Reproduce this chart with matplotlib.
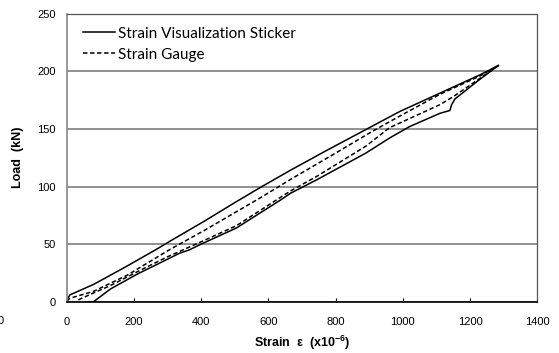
import matplotlib.pyplot as plt

# data
sticker_up_strain = [0, 10, 80, 180, 270, 310, 410, 500, 575, 665, 765, 900, 990, 1110, 1230, 1284]
sticker_up_load = [1.5, 6, 15, 31, 46, 53, 70, 86, 99, 114, 130, 151, 165, 181, 197, 205]

sticker_down_strain = [1284, 1220, 1155, 1145, 1140, 1110, 1020, 960, 890, 745, 665, 640, 505,
                       400, 365, 335, 280, 210, 130, 80, 64]
sticker_down_load = [205, 191, 176, 171, 166, 163.5, 152, 142, 129, 106, 94, 89, 64,
                     50, 45, 42, 34, 24, 11, 0, 0]

gauge_up_strain = [0, 10, 80, 180, 305, 410, 575, 665, 800, 910, 990, 1110, 1230, 1284]
gauge_up_load = [0.5, 3, 9, 23, 45, 62, 90, 106, 129, 148, 161, 180, 196, 205]

gauge_down_strain = [1284, 1220, 1150, 1110, 960, 890, 745, 665, 505, 400, 300, 210, 130, 60, 30]
gauge_down_load = [205, 192, 178, 171, 151, 135, 109, 96, 66, 52, 39, 26, 14, 5, 1]

x_ticks = [0, 200, 400, 600, 800, 1000, 1200, 1400]
y_ticks = [0, 50, 100, 150, 200, 250]

plt.rcParams["font.family"] = "Liberation Sans"
plt.rcParams["mathtext.fontset"] = "custom"
plt.rcParams["mathtext.rm"] = "Liberation Sans"
plt.rcParams["mathtext.bf"] = "Liberation Sans:bold"

fig = plt.figure(figsize=(5.59, 3.53), dpi=100)
ax = fig.add_axes([0.1193, 0.1453, 0.8419, 0.8159])

dash = (0, (2.9, 1.7))
ax.plot(sticker_up_strain, sticker_up_load, color="black", lw=1.1, label="Strain Visualization Sticker")
ax.plot(gauge_up_strain, gauge_up_load, color="black", lw=1.1, linestyle=dash, label="Strain Gauge")
ax.plot(sticker_down_strain, sticker_down_load, color="black", lw=1.1)
ax.plot(gauge_down_strain, gauge_down_load, color="black", lw=1.1, linestyle=dash)

ax.set_xlim(0, 1400)
ax.set_ylim(0, 250)
ax.set_xticks(x_ticks)
ax.set_yticks(y_ticks)
ax.yaxis.grid(True, color="#888888", lw=1.3)
ax.set_axisbelow(True)

ax.tick_params(axis="x", direction="in", length=3, width=0.8, pad=11, labelsize=8)
ax.tick_params(axis="y", length=0, pad=8, labelsize=8)

ax.spines["left"].set_color("#888888")
ax.spines["left"].set_linewidth(1.2)
ax.spines["bottom"].set_color("black")
ax.spines["bottom"].set_linewidth(1.2)
for s in ["top", "right"]:
    ax.spines[s].set_color("#555555")
    ax.spines[s].set_linewidth(0.9)

ax.set_xlabel(r"Strain  ε  (x10$^{\mathbf{-6}}$)", fontsize=9, fontweight="bold")
ax.set_ylabel("Load  (kN)", fontsize=9, fontweight="bold")
ax.xaxis.set_label_coords(0.5, -0.112)
ax.yaxis.set_label_coords(-0.091, 0.5)

ax.legend(loc="upper left", bbox_to_anchor=(0.035, 0.955), frameon=False,
          prop={"family": "Lato", "size": 11}, handlelength=2.1,
          handletextpad=0.15, labelspacing=0.45, borderpad=0, borderaxespad=0)

fig.text(-2 / 559, 1 - 321 / 353, "0", fontsize=8, ha="left", va="center")

plt.savefig("out.png", dpi=100)
